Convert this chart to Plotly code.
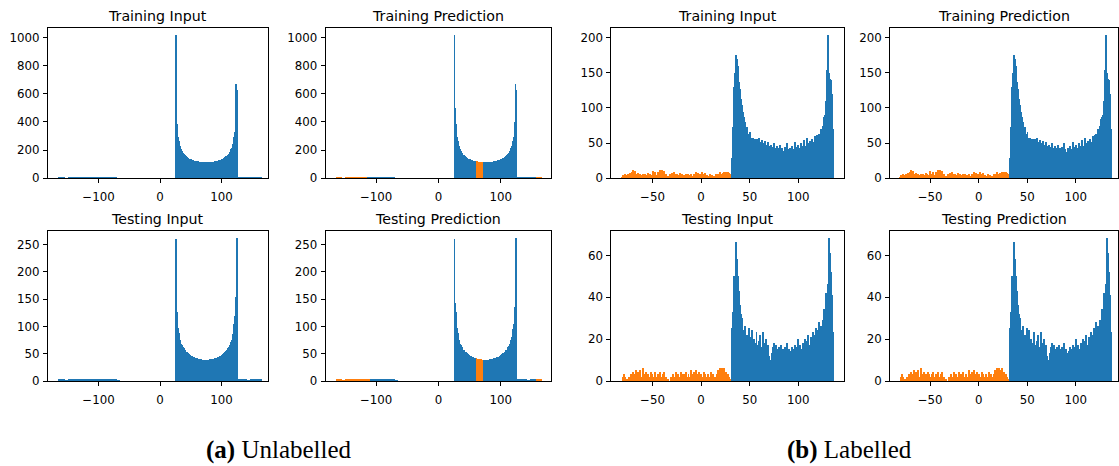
import plotly.graph_objects as go

BLUE = "#1f77b4"
ORANGE = "#ff7f0e"

# ---------------- Unlabelled data (bin width 1 for the U part) ----------------
UNL_U_START = 25
UNL_U_BIN = 1
unl_train_u = [1020, 500, 390, 330, 295, 270, 250, 232, 220, 208,
               198, 190, 183, 177, 171, 166, 162, 158, 154, 151,
               148, 145, 143, 141, 139, 137, 135, 134, 132, 131,
               129, 128, 127, 126, 125, 124, 123, 122, 122, 121,
               120, 120, 119, 119, 118, 118, 118, 117, 117, 117,
               117, 117, 117, 118, 118, 118, 119, 119, 120, 120,
               121, 122, 122, 123, 124, 125, 126, 127, 128, 129,
               131, 132, 134, 135, 137, 139, 141, 143, 145, 148,
               151, 154, 158, 162, 166, 171, 177, 183, 190, 198,
               208, 220, 232, 250, 270, 295, 330, 400, 670, 630]
unl_test_u = [259, 143, 126, 105, 96, 88, 80, 75, 71, 68,
              65, 63, 61, 59, 57, 56, 54, 53, 52, 51,
              50, 49, 48, 47, 46, 46, 45, 44, 44, 43,
              43, 42, 42, 41, 41, 41, 40, 40, 40, 39,
              39, 39, 39, 38, 38, 38, 38, 38, 38, 38,
              38, 38, 38, 38, 38, 38, 39, 39, 39, 39,
              40, 40, 40, 41, 41, 41, 42, 42, 43, 43,
              44, 44, 45, 46, 46, 47, 48, 49, 50, 51,
              52, 53, 54, 56, 57, 59, 61, 63, 65, 68,
              71, 75, 80, 86, 94, 104, 118, 135, 153, 262]

# sparse noise outside the U (bin width 5)
UNL_NOISE_BIN = 5
UNL_LEFT_START = -165
UNL_RIGHT_START = 126
unl_train_left = [6, 8, 5, 9, 7, 6, 10, 8, 7, 9, 6, 8, 11, 7, 9, 8, 6, 10, 7, 5]
unl_train_right = [7, 9, 6, 8, 10, 7, 8, 6]
unl_test_left = [2, 3, 1, 3, 2, 3, 2, 3, 2, 2, 3, 3, 2, 3, 2, 2, 3, 2, 2, 1]
unl_test_right = [2, 3, 2, 1, 3, 2, 3, 2]

# predicted-class (orange) regions in the unlabelled prediction panels
unl_pred_mid = (60, 72)
unl_train_pred_left_end = -115
unl_test_pred_left_end = -110
unl_pred_right_start = 156

# ---------------- Labelled data (bin width 1) ----------------
LAB_BIN = 1
LAB_BLUE_START = 32
LAB_ORANGE_START = -81
lab_train_blue = [30, 74, 130, 150, 176, 170, 160, 137, 128, 113,
                  105, 95, 88, 80, 72, 74, 64, 62, 66, 58,
                  55, 58, 50, 57, 56, 48, 56, 49, 58, 52,
                  47, 55, 50, 46, 53, 48, 44, 52, 47, 42,
                  48, 45, 40, 50, 44, 39, 46, 36, 43, 48,
                  38, 44, 30, 40, 45, 35, 50, 42, 28, 38,
                  44, 40, 47, 36, 42, 52, 39, 45, 48, 40,
                  43, 50, 38, 46, 55, 44, 47, 58, 42, 50,
                  53, 45, 56, 52, 48, 60, 55, 62, 60, 63,
                  58, 70, 66, 75, 85, 88, 90, 110, 155, 204,
                  150, 142, 140, 120, 70]
lab_test_blue = [25, 33, 50, 46, 66, 58, 50, 43, 36, 32,
                 30, 24, 22, 26, 20, 22, 18, 25, 21, 19,
                 24, 16, 20, 18, 15, 23, 17, 14, 19, 22,
                 16, 13, 23, 18, 15, 20, 14, 17, 12, 10,
                 9, 13, 16, 18, 14, 17, 15, 13, 16, 12,
                 17, 14, 15, 13, 16, 14, 18, 12, 15, 13,
                 7, 14, 16, 12, 15, 17, 13, 16, 20, 14,
                 17, 15, 13, 18, 16, 20, 15, 19, 22, 17,
                 14, 21, 19, 23, 20, 22, 25, 21, 24, 28,
                 22, 26, 25, 29, 27, 34, 30, 42, 42, 46,
                 68, 61, 52, 41, 23]
lab_train_orange = [3, 5, 4, 6, 3, 5, 7, 4, 8, 6,
                    10, 13, 9, 11, 7, 5, 8, 4, 6, 5,
                    3, 7, 4, 6, 5, 3, 8, 4, 6, 3,
                    5, 11, 6, 4, 9, 5, 3, 10, 7, 12,
                    6, 13, 8, 11, 5, 7, 2, 4, 3, 6,
                    2, 8, 5, 9, 6, 4, 7, 3, 5, 8,
                    4, 6, 2, 5, 3, 7, 4, 6, 3, 5,
                    2, 6, 4, 3, 7, 5, 9, 6, 8, 5,
                    7, 4, 9, 6, 5, 8, 3, 5, 2, 4,
                    6, 3, 5, 2, 4, 3, 6, 4, 7, 5,
                    9, 4, 6, 8, 3, 10, 7, 9, 6, 10,
                    8, 7]
lab_test_orange = [0, 2, 3, 2, 0, 1, 0, 2, 1, 3,
                   2, 4, 1, 3, 5, 2, 4, 3, 5, 1,
                   2, 6, 3, 1, 4, 2, 3, 1, 2, 4,
                   3, 2, 1, 3, 4, 2, 0, 3, 1, 4,
                   2, 1, 3, 4, 0, 2, 0, 1, 0, 0,
                   2, 1, 3, 2, 1, 4, 2, 3, 1, 2,
                   4, 3, 1, 3, 2, 4, 1, 2, 3, 0,
                   2, 5, 1, 3, 4, 2, 5, 3, 1, 4,
                   2, 3, 1, 2, 4, 3, 1, 2, 3, 1,
                   2, 4, 2, 3, 1, 2, 0, 3, 5, 2,
                   6, 4, 6, 3, 5, 6, 2, 4, 1, 3,
                   2, 1]

titles = ["Training Input", "Training Prediction", "Training Input", "Training Prediction",
          "Testing Input", "Testing Prediction", "Testing Input", "Testing Prediction"]
captions = ["<b>(a)</b> Unlabelled", "<b>(b)</b> Labelled"]

unl_xticks = [-100, 0, 100]
lab_xticks = [-50, 0, 50, 100]
yticks_unl_train = [0, 200, 400, 600, 800, 1000]
yticks_unl_test = [0, 50, 100, 150, 200, 250]
yticks_lab_train = [0, 50, 100, 150, 200]
yticks_lab_test = [0, 20, 40, 60]

# ---------------- layout geometry (pixels) ----------------
W, H = 1119, 466
cols_px = [(48, 268), (326, 551), (612, 845), (891, 1119)]
rows_px = [(28, 181), (235, 387)]
x_ranges = [(-182, 175), (-181, 180), (-92.3, 147.4), (-91.1, 143.5)]
y_ranges = [[(0, 1071), (0, 1071), (0, 214), (0, 214)],
            [(0, 274), (0, 274), (0, 71.4), (0, 71.4)]]
y_ticks = [[yticks_unl_train, yticks_unl_train, yticks_lab_train, yticks_lab_train],
           [yticks_unl_test, yticks_unl_test, yticks_lab_test, yticks_lab_test]]

fig = go.Figure()


def add_bars(k, starts, width, counts, colors):
    fig.add_trace(go.Bar(x=starts, y=counts, width=[width] * len(counts), offset=0,
                         marker=dict(color=colors, line=dict(width=0)),
                         xaxis="x" if k == 1 else f"x{k}", yaxis="y" if k == 1 else f"y{k}",
                         hoverinfo="skip"))


def unl_panel(k, u_counts, left, right, pred, left_end):
    u_starts = [UNL_U_START + i * UNL_U_BIN for i in range(len(u_counts))]
    l_starts = [UNL_LEFT_START + i * UNL_NOISE_BIN for i in range(len(left))]
    r_starts = [UNL_RIGHT_START + i * UNL_NOISE_BIN for i in range(len(right))]
    if pred:
        u_cols = [ORANGE if unl_pred_mid[0] <= s < unl_pred_mid[1] else BLUE for s in u_starts]
        l_cols = [ORANGE if s < left_end else BLUE for s in l_starts]
        r_cols = [ORANGE if s >= unl_pred_right_start else BLUE for s in r_starts]
    else:
        u_cols = [BLUE] * len(u_starts)
        l_cols = [BLUE] * len(l_starts)
        r_cols = [BLUE] * len(r_starts)
    add_bars(k, l_starts, UNL_NOISE_BIN, left, l_cols)
    add_bars(k, r_starts, UNL_NOISE_BIN, right, r_cols)
    add_bars(k, u_starts, UNL_U_BIN, u_counts, u_cols)


def lab_panel(k, orange, blue):
    o_starts = [LAB_ORANGE_START + i * LAB_BIN for i in range(len(orange))]
    b_starts = [LAB_BLUE_START + i * LAB_BIN for i in range(len(blue))]
    add_bars(k, o_starts, LAB_BIN, orange, ORANGE)
    add_bars(k, b_starts, LAB_BIN, blue, BLUE)


unl_panel(1, unl_train_u, unl_train_left, unl_train_right, False, None)
unl_panel(2, unl_train_u, unl_train_left, unl_train_right, True, unl_train_pred_left_end)
lab_panel(3, lab_train_orange, lab_train_blue)
lab_panel(4, lab_train_orange, lab_train_blue)
unl_panel(5, unl_test_u, unl_test_left, unl_test_right, False, None)
unl_panel(6, unl_test_u, unl_test_left, unl_test_right, True, unl_test_pred_left_end)
lab_panel(7, lab_test_orange, lab_test_blue)
lab_panel(8, lab_test_orange, lab_test_blue)

tickfont = dict(family="DejaVu Sans", size=11.8, color="black")
axis_style = dict(showline=True, mirror=True, linecolor="black", linewidth=1,
                  ticks="outside", ticklen=4, tickwidth=1, tickcolor="black",
                  showgrid=False, zeroline=False, tickfont=tickfont, fixedrange=True)

layout = {}
annotations = []
for r in range(2):
    for c in range(4):
        k = r * 4 + c + 1
        x0, x1 = cols_px[c]
        y0, y1 = rows_px[r]
        xd = [x0 / W, min(x1 / W, 1.0)]
        yd = [1 - y1 / H, 1 - y0 / H]
        xt = unl_xticks if c < 2 else lab_xticks
        layout["xaxis" if k == 1 else f"xaxis{k}"] = dict(
            domain=xd, range=list(x_ranges[c]), anchor="y" if k == 1 else f"y{k}",
            tickvals=xt, ticktext=[str(v).replace("-", "\u2212") for v in xt],
            ticklabelstandoff=4, **axis_style)
        layout["yaxis" if k == 1 else f"yaxis{k}"] = dict(
            domain=yd, range=list(y_ranges[r][c]), anchor="x" if k == 1 else f"x{k}",
            tickvals=y_ticks[r][c], ticklabelstandoff=1, **axis_style)
        annotations.append(dict(text=titles[k - 1], x=(xd[0] + xd[1]) / 2, y=yd[1],
                                xref="paper", yref="paper", xanchor="center", yanchor="bottom",
                                yshift=2, showarrow=False,
                                font=dict(family="DejaVu Sans", size=14.2, color="black")))

caption_x = [279, 850]
for i, cap in enumerate(captions):
    annotations.append(dict(text=cap, x=caption_x[i] / W, y=1 - 457 / H, xref="paper", yref="paper",
                            xanchor="center", yanchor="middle", showarrow=False,
                            font=dict(family="Liberation Serif", size=25, color="black")))

fig.update_layout(width=W, height=H, margin=dict(l=0, r=0, t=0, b=0),
                  paper_bgcolor="white", plot_bgcolor="white",
                  barmode="overlay", bargap=0, showlegend=False,
                  annotations=annotations, **layout)

fig.write_html("out.html", config={"displayModeBar": False})
